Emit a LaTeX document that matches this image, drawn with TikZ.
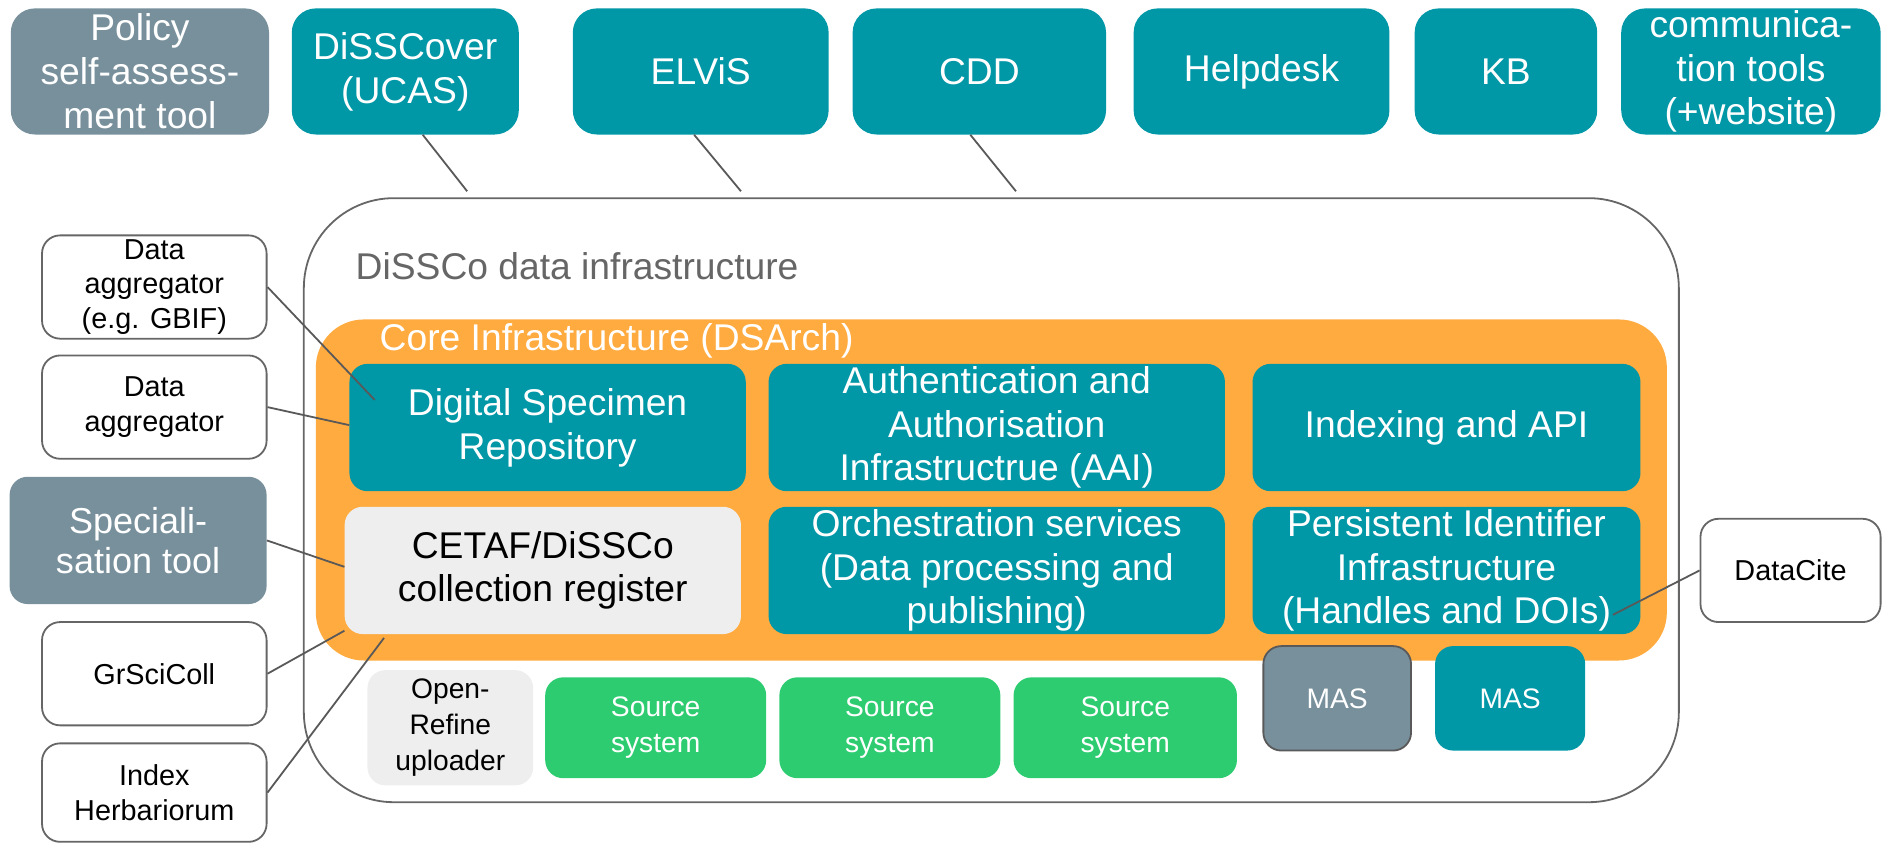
\documentclass[tikz,border=0pt]{standalone}
\usepackage{fontspec}
\setmainfont{Liberation Sans}
\usetikzlibrary{calc}
\definecolor{tealc}{HTML}{0097A7}
\definecolor{slate}{HTML}{78909C}
\definecolor{orng}{HTML}{FFAB40}
\definecolor{grn}{HTML}{2ECC71}
\definecolor{lgray}{HTML}{EEEEEE}
\definecolor{edgec}{HTML}{666666}
\definecolor{linec}{HTML}{595959}
\begin{document}
\begin{tikzpicture}[x=1pt,y=-1pt,
  wh/.style 2 args={minimum width=#1pt, minimum height=#2pt},
  base/.style={inner sep=0pt, align=center, rounded corners=15pt},
  bigf/.style={font=\fontsize{31}{36.5}\selectfont},
  smallf/.style={font=\fontsize{24}{28.5}\selectfont},
  srcf/.style={font=\fontsize{23.5}{30}\selectfont},
  topbox/.style={base, bigf, fill=tealc, text=white, rounded corners=20pt},
  topgray/.style={base, bigf, fill=slate, text=white, rounded corners=20pt},
  tealbox/.style={base, bigf, fill=tealc, text=white},
  regbox/.style={base, bigf, fill=lgray, text=black},
  extbox/.style={base, smallf, fill=white, draw=edgec, line width=1.5pt, text=black},
  srcbox/.style={base, srcf, fill=grn, text=white},
  conn/.style={draw=linec, line width=1.5pt},
]
\useasboundingbox (0,0) rectangle (1568,702);

% outer container
\node[base, wh={1145}{503}, draw=edgec, line width=1.5pt, rounded corners=75pt] (outer) at (825.5,416.5) {};
\node[anchor=base west, inner sep=0pt, text=edgec, font=\fontsize{31}{36}\selectfont] (outerlbl) at (296,233) {DiSSCo data infrastructure};

% core
\node[base, wh={1125}{284}, fill=orng, rounded corners=40pt] (core) at (825.5,408) {};
\node[anchor=base west, inner sep=0pt, text=white, font=\fontsize{31}{36}\selectfont] (corelbl) at (316,292) {Core Infrastructure (DSArch)};

% inner boxes
\node[tealbox, wh={330}{106}] (dsr) at (456,356) {Digital Specimen\\Repository};
\node[tealbox, wh={380}{106}] (aai) at (830,356) {Authentication and\\Authorisation\\Infrastructrue (AAI)};
\node[tealbox, wh={323}{106}] (idx) at (1204.5,356) {Indexing and API};
\node[regbox, wh={330}{106}] (reg) at (452,475) {CETAF/DiSSCo\\collection register};
\node[tealbox, wh={380}{106}] (orch) at (830,475) {Orchestration services\\(Data processing and\\publishing)};
\node[tealbox, wh={323}{106}] (pid) at (1204.5,475) {Persistent Identifier\\Infrastructure\\(Handles and DOIs)};

% bottom row
\node[base, srcf, fill=lgray, text=black, wh={138}{96}] (oru) at (375,606) {Open-\\Refine\\uploader};
\node[srcbox, wh={184}{84}] (src1) at (546,606) {Source\\system};
\node[srcbox, wh={184}{84}] (src2) at (741,606) {Source\\system};
\node[srcbox, wh={186}{84}] (src3) at (937,606) {Source\\system};
\node[base, srcf, fill=slate, text=white, draw=linec, line width=1.5pt, wh={123}{87}] (mas1) at (1113.5,581.5) {MAS};
\node[base, srcf, fill=tealc, text=white, wh={125}{87}] (mas2) at (1257.5,581.5) {MAS};

% top row
\node[topgray, wh={215}{105}] (pol) at (116.5,59.5) {Policy\\self-assess-\\ment tool};
\node[topbox, wh={189}{105}] (dis) at (337.5,59.5) {DiSSCover\\(UCAS)};
\node[topbox, wh={213}{105}] (elv) at (583.5,59.5) {ELViS};
\node[topbox, wh={211}{105}] (cdd) at (815.5,59.5) {CDD};
\node[topbox, wh={213}{105}] (help) at (1050.5,59.5) {Helpdesk};
\node[topbox, wh={152}{105}] (kb) at (1254,59.5) {KB};
\node[topbox, wh={216}{105}] (comm) at (1458,59.5) {communica-\\tion tools\\(+website)};

% left side
\node[extbox, wh={187}{86}] (gbif) at (128.5,239) {Data\\aggregator\\(e.g. GBIF)};
\node[extbox, wh={187}{86}] (agg) at (128.5,339) {Data\\aggregator};
\node[base, fill=slate, text=white, font=\fontsize{30}{33}\selectfont, wh={214}{106}] (spec) at (115,450) {Speciali-\\sation tool};
\node[extbox, wh={187}{86}] (grsc) at (128.5,561) {GrSciColl};
\node[extbox, wh={187}{82}] (ih) at (128.5,660) {Index\\Herbariorum};

% right side
\node[extbox, wh={150}{86}] (dc) at (1491,475) {DataCite};

% connectors
\draw[conn] ([xshift=14.5pt]dis.south) -- ([xshift=-436.5pt,yshift=5pt]outer.north);
\draw[conn] ([xshift=-5.5pt]elv.south) -- ([xshift=-208.5pt,yshift=5pt]outer.north);
\draw[conn] ([xshift=-7.5pt]cdd.south) -- ([xshift=20.5pt,yshift=5pt]outer.north);
\draw[conn] (gbif.east) -- ([xshift=-144pt,yshift=23pt]dsr.center);
\draw[conn] (agg.east) -- ([yshift=2pt]dsr.west);
\draw[conn] (spec.east) -- ([yshift=3pt]reg.west);
\draw[conn] (grsc.east) -- ([yshift=3pt]reg.south west);
\draw[conn] (ih.east) -- ([xshift=33pt,yshift=-3pt]reg.south west);
\draw[conn] (dc.west) -- ([xshift=138.5pt,yshift=-37pt]pid.center);
\end{tikzpicture}
\end{document}
